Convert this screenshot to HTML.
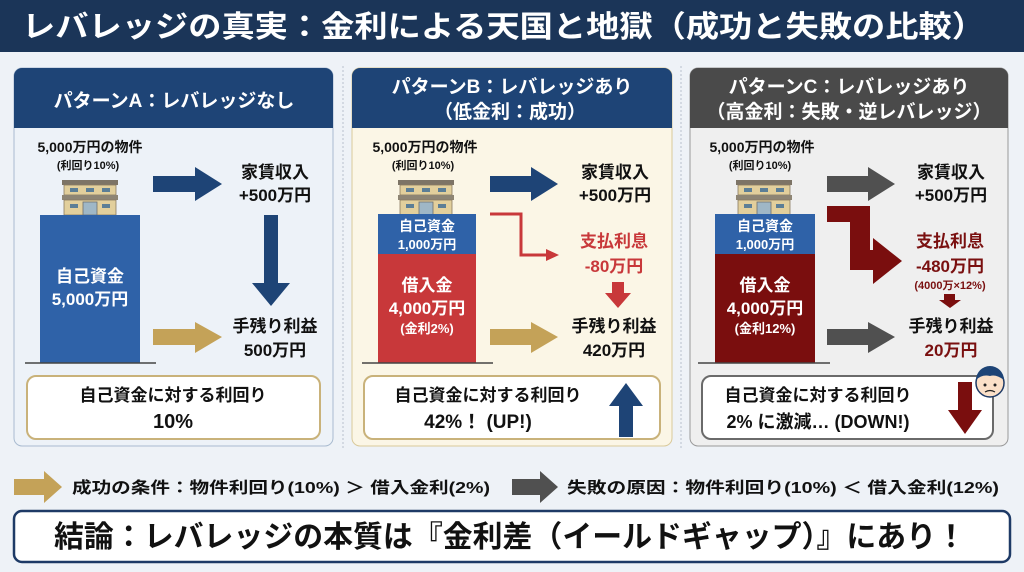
<!DOCTYPE html>
<html><head><meta charset="utf-8"><style>
html,body{margin:0;padding:0;background:#eef2f7;}
svg{display:block;}
text{font-family:"Liberation Sans","Noto Sans CJK JP",sans-serif;font-weight:bold;}
</style></head><body>
<svg width="1024" height="572" viewBox="0 0 1024 572" xmlns="http://www.w3.org/2000/svg">
<defs>
<g id="bld">
 <rect x="0" y="0" width="56" height="5" fill="#7d7466"/>
 <rect x="2" y="5" width="52" height="10" fill="#e2cf9c" stroke="#8a7a60" stroke-width="0.8"/>
 <rect x="8" y="8" width="8" height="4" fill="#5c7e96"/><rect x="24" y="8" width="8" height="4" fill="#5c7e96"/><rect x="40" y="8" width="8" height="4" fill="#5c7e96"/>
 <rect x="0" y="15" width="56" height="5" fill="#8e8574"/>
 <rect x="2" y="20" width="52" height="15" fill="#e2cf9c" stroke="#8a7a60" stroke-width="0.8"/>
 <rect x="8" y="24" width="8" height="4" fill="#5c7e96"/><rect x="40" y="24" width="8" height="4" fill="#5c7e96"/>
 <rect x="21" y="22" width="14" height="13" fill="#9fb7c6" stroke="#6d6d6d" stroke-width="0.8"/>
</g>
</defs>
<rect width="1024" height="572" fill="#eef2f7"/>
<rect width="1024" height="52" fill="#1b3558"/>
<text x="22" y="37" font-size="30" fill="#fff" textLength="963" lengthAdjust="spacingAndGlyphs">レバレッジの真実：金利による天国と地獄（成功と失敗の比較）</text>

<line x1="343" y1="66" x2="343" y2="448" stroke="#b8c0cc" stroke-dasharray="2,2"/>
<line x1="681" y1="66" x2="681" y2="448" stroke="#b8c0cc" stroke-dasharray="2,2"/>

<!-- Panel A -->
<rect x="14" y="68" width="319" height="378" rx="8" fill="#edf2f8" stroke="#a9bbd0"/>
<path d="M14 128 V76 a8 8 0 0 1 8 -8 H325 a8 8 0 0 1 8 8 V128 Z" fill="#1e4476"/>
<text x="174" y="107" font-size="19" fill="#fff" text-anchor="middle">パターンA：レバレッジなし</text>
<text x="90" y="152" font-size="14" fill="#111" text-anchor="middle">5,000万円の物件</text>
<text x="88" y="169" font-size="11" fill="#111" text-anchor="middle">(利回り10%)</text>
<use href="#bld" x="62" y="180"/>
<rect x="40" y="215" width="100" height="148" fill="#2f62a8"/>
<line x1="25" y1="363" x2="156" y2="363" stroke="#444" stroke-width="1.5"/>
<text x="90" y="282" font-size="17" fill="#fff" text-anchor="middle">自己資金</text>
<text x="90" y="305" font-size="17" fill="#fff" text-anchor="middle">5,000万円</text>
<polygon points="153,176 195,176 195,167 222,184 195,201 195,192 153,192" fill="#1e4476"/>
<text x="275" y="178" font-size="17" fill="#111" text-anchor="middle">家賃収入</text>
<text x="275" y="201" font-size="17" fill="#111" text-anchor="middle">+500万円</text>
<polygon points="264,215 278,215 278,283 290,283 271,306 252,283 264,283" fill="#1e4476"/>
<polygon points="153,329 195,329 195,322 222,337 195,353 195,345 153,345" fill="#c4a258"/>
<text x="275" y="332" font-size="17" fill="#111" text-anchor="middle">手残り利益</text>
<text x="275" y="356" font-size="17" fill="#111" text-anchor="middle">500万円</text>
<rect x="27" y="376" width="293" height="63" rx="9" fill="#fff" stroke="#c9b27a" stroke-width="2"/>
<text x="173" y="401" font-size="17" fill="#111" text-anchor="middle">自己資金に対する利回り</text>
<text x="173" y="428" font-size="20" fill="#111" text-anchor="middle">10%</text>

<!-- Panel B -->
<rect x="352" y="68" width="320" height="378" rx="8" fill="#fbf6e6" stroke="#d9c99a"/>
<path d="M352 128 V76 a8 8 0 0 1 8 -8 H664 a8 8 0 0 1 8 8 V128 Z" fill="#1e4476"/>
<text x="512" y="93" font-size="19" fill="#fff" text-anchor="middle">パターンB：レバレッジあり</text>
<text x="510" y="118" font-size="19" fill="#fff" text-anchor="middle">（低金利：成功）</text>
<text x="425" y="152" font-size="14" fill="#111" text-anchor="middle">5,000万円の物件</text>
<text x="423" y="169" font-size="11" fill="#111" text-anchor="middle">(利回り10%)</text>
<use href="#bld" x="398" y="180"/>
<rect x="378" y="214" width="98" height="40" fill="#2f62a8"/>
<rect x="378" y="254" width="98" height="109" fill="#c8383a"/>
<line x1="362" y1="363" x2="493" y2="363" stroke="#444" stroke-width="1.5"/>
<text x="427" y="231" font-size="14" fill="#fff" text-anchor="middle">自己資金</text>
<text x="427" y="249" font-size="13" fill="#fff" text-anchor="middle">1,000万円</text>
<text x="427" y="291" font-size="17" fill="#fff" text-anchor="middle">借入金</text>
<text x="427" y="314" font-size="17" fill="#fff" text-anchor="middle">4,000万円</text>
<text x="427" y="333" font-size="13" fill="#fff" text-anchor="middle">(金利2%)</text>
<polygon points="490,176 531,176 531,167 558,184 531,201 531,192 490,192" fill="#1e4476"/>
<text x="615" y="178" font-size="17" fill="#111" text-anchor="middle">家賃収入</text>
<text x="615" y="201" font-size="17" fill="#111" text-anchor="middle">+500万円</text>
<path d="M490 214 H521 V255 H548" fill="none" stroke="#c8383a" stroke-width="3"/>
<polygon points="546,249 559,255 546,261" fill="#c8383a"/>
<text x="614" y="247" font-size="17" fill="#c8383a" text-anchor="middle">支払利息</text>
<text x="614" y="272" font-size="17" fill="#c8383a" text-anchor="middle">-80万円</text>
<polygon points="612,282 624,282 624,293 631,293 618,308 605,293 612,293" fill="#c8383a"/>
<polygon points="490,329 531,329 531,322 558,337 531,353 531,345 490,345" fill="#c4a258"/>
<text x="614" y="332" font-size="17" fill="#111" text-anchor="middle">手残り利益</text>
<text x="614" y="356" font-size="17" fill="#111" text-anchor="middle">420万円</text>
<rect x="364" y="376" width="296" height="63" rx="9" fill="#fff" stroke="#c9b27a" stroke-width="2"/>
<text x="488" y="401" font-size="17" fill="#111" text-anchor="middle">自己資金に対する利回り</text>
<text x="478" y="428" font-size="19" fill="#111" text-anchor="middle">42%！ (UP!)</text>
<polygon points="619,437 633,437 633,406 643,406 626,383 609,406 619,406" fill="#1e4476"/>

<!-- Panel C -->
<rect x="690" y="68" width="318" height="378" rx="8" fill="#efefef" stroke="#9a9a9a"/>
<path d="M690 128 V76 a8 8 0 0 1 8 -8 H1000 a8 8 0 0 1 8 8 V128 Z" fill="#4a4a4a"/>
<text x="849" y="93" font-size="19" fill="#fff" text-anchor="middle">パターンC：レバレッジあり</text>
<text x="849" y="118" font-size="19" fill="#fff" text-anchor="middle">（高金利：失敗・逆レバレッジ）</text>
<text x="762" y="152" font-size="14" fill="#111" text-anchor="middle">5,000万円の物件</text>
<text x="760" y="169" font-size="11" fill="#111" text-anchor="middle">(利回り10%)</text>
<use href="#bld" x="736" y="180"/>
<rect x="715" y="214" width="100" height="40" fill="#2f62a8"/>
<rect x="715" y="254" width="100" height="109" fill="#7a0e0e"/>
<line x1="698" y1="363" x2="830" y2="363" stroke="#444" stroke-width="1.5"/>
<text x="765" y="231" font-size="14" fill="#fff" text-anchor="middle">自己資金</text>
<text x="765" y="249" font-size="13" fill="#fff" text-anchor="middle">1,000万円</text>
<text x="765" y="291" font-size="17" fill="#fff" text-anchor="middle">借入金</text>
<text x="765" y="314" font-size="17" fill="#fff" text-anchor="middle">4,000万円</text>
<text x="765" y="333" font-size="13" fill="#fff" text-anchor="middle">(金利12%)</text>
<polygon points="827,176 868,176 868,167 895,184 868,201 868,192 827,192" fill="#505050"/>
<text x="951" y="178" font-size="17" fill="#111" text-anchor="middle">家賃収入</text>
<text x="951" y="201" font-size="17" fill="#111" text-anchor="middle">+500万円</text>
<polygon points="827,206 870,206 870,250 873,250 873,238 902,261 873,284 873,270 850,270 850,222 827,222" fill="#7a0e0e"/>
<text x="950" y="247" font-size="17" fill="#7a1010" text-anchor="middle">支払利息</text>
<text x="950" y="272" font-size="17" fill="#7a1010" text-anchor="middle">-480万円</text>
<text x="950" y="289" font-size="11" fill="#7a1010" text-anchor="middle">(4000万×12%)</text>
<polygon points="944,294 955,294 955,300 961,300 950,308 939,300 944,300" fill="#7a0e0e"/>
<polygon points="827,329 868,329 868,322 895,337 868,353 868,345 827,345" fill="#505050"/>
<text x="951" y="332" font-size="17" fill="#111" text-anchor="middle">手残り利益</text>
<text x="951" y="356" font-size="17" fill="#7a1010" text-anchor="middle">20万円</text>
<rect x="702" y="376" width="291" height="63" rx="9" fill="#fff" stroke="#6a6a6a" stroke-width="2"/>
<text x="818" y="401" font-size="17" fill="#111" text-anchor="middle">自己資金に対する利回り</text>
<text x="818" y="428" font-size="18" fill="#111" text-anchor="middle">2% に激減… (DOWN!)</text>
<polygon points="958,382 972,382 972,410 982,410 965,434 948,410 958,410" fill="#7a0e0e"/>
<circle cx="990" cy="383" r="14" fill="#fbe0c8" stroke="#1e3a66" stroke-width="1.5"/>
<path d="M976 380 a14 14 0 0 1 28 0 q-8 -6 -14 -4 q-8 -2 -14 4z" fill="#1e4476"/>
<circle cx="985" cy="385" r="1.5" fill="#222"/><circle cx="995" cy="385" r="1.5" fill="#222"/>
<path d="M985 392 q5 -3 10 0" fill="none" stroke="#222" stroke-width="1.2"/>

<!-- Legend -->
<polygon points="14,479 44,479 44,471 62,487 44,503 44,495 14,495" fill="#c4a258"/>
<text x="72" y="493" font-size="16" fill="#111" textLength="418" lengthAdjust="spacingAndGlyphs">成功の条件：物件利回り(10%) ＞ 借入金利(2%)</text>
<polygon points="512,479 540,479 540,471 558,487 540,503 540,495 512,495" fill="#505050"/>
<text x="567" y="493" font-size="16" fill="#111" textLength="432" lengthAdjust="spacingAndGlyphs">失敗の原因：物件利回り(10%) ＜ 借入金利(12%)</text>

<!-- Conclusion -->
<rect x="14" y="511" width="996" height="51" rx="8" fill="#fff" stroke="#1e3a66" stroke-width="2.5"/>
<text x="54" y="547" font-size="30" fill="#111" textLength="912" lengthAdjust="spacingAndGlyphs">結論：レバレッジの本質は『金利差（イールドギャップ）』にあり！</text>
</svg>
</body></html>
